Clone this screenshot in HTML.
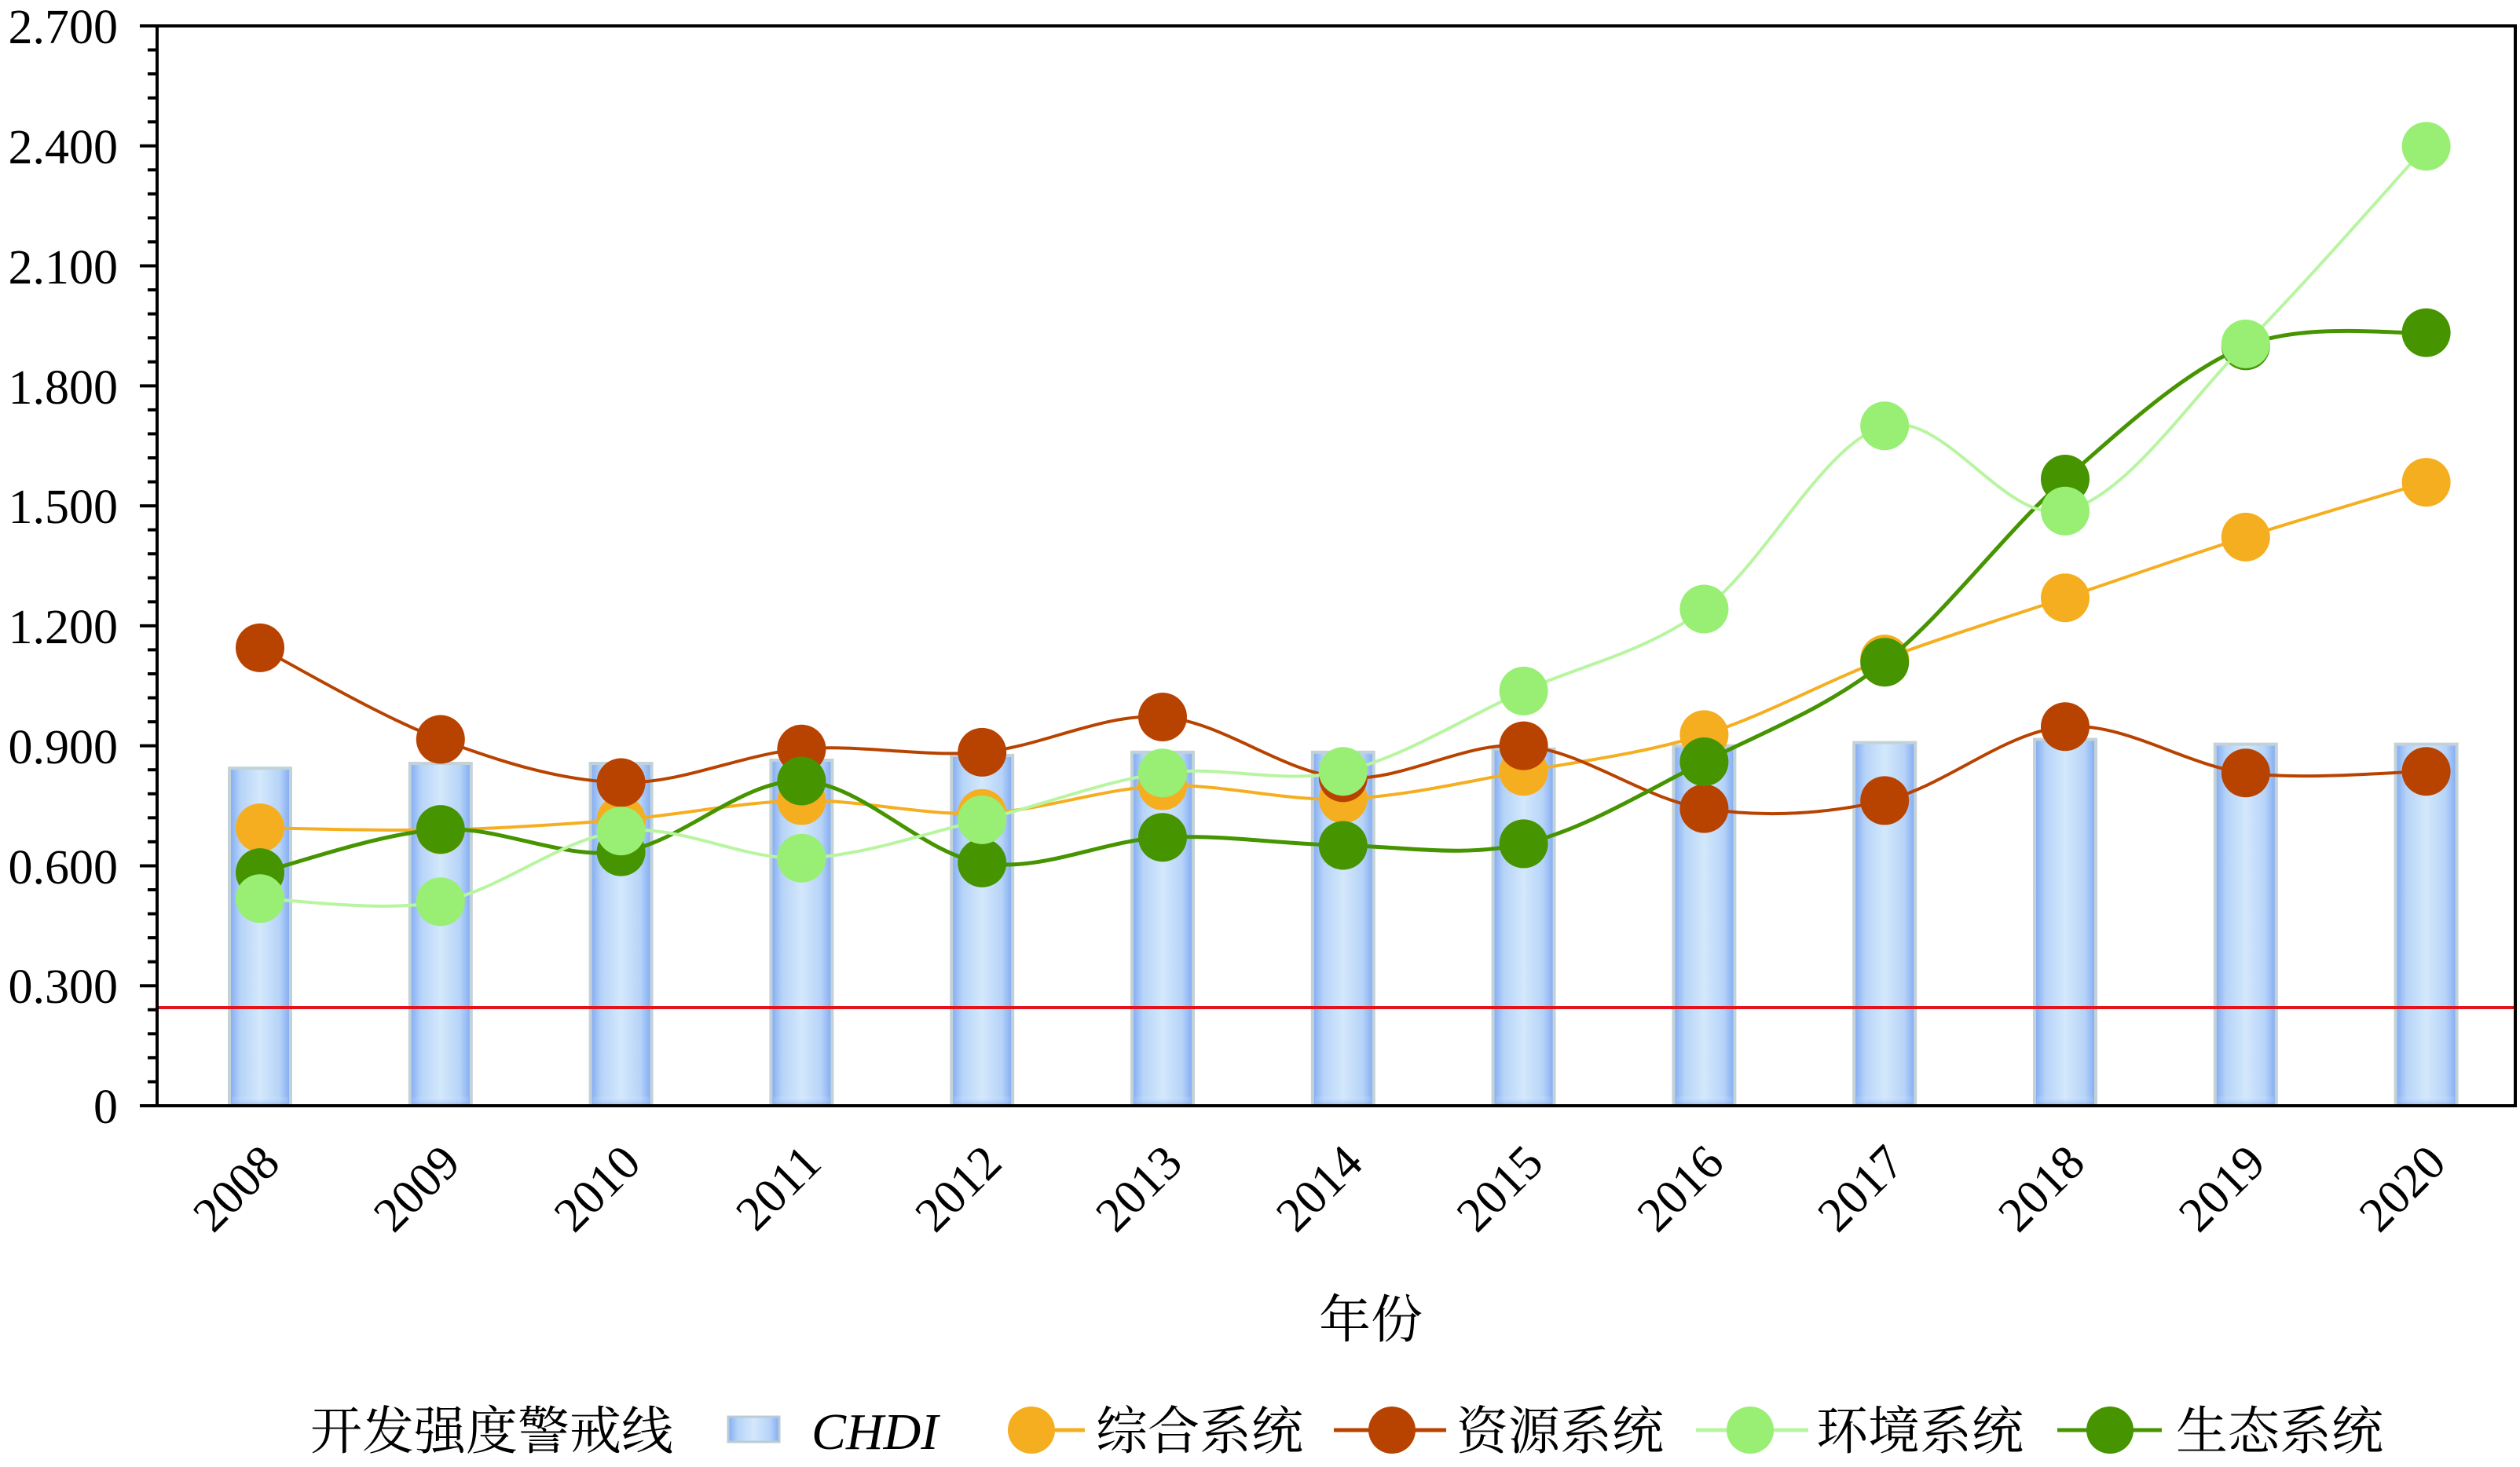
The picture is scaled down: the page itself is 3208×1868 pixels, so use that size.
<!DOCTYPE html>
<html><head><meta charset="utf-8"><style>
html,body{margin:0;padding:0;background:#fff;}
svg{display:block;}
text{font-family:"Liberation Serif","Noto Serif CJK SC","Noto Sans CJK SC",serif;fill:#000;}
</style></head><body>
<svg id="s" width="3208" height="1868" viewBox="0 0 3208 1868" xmlns="http://www.w3.org/2000/svg">
<defs>
<linearGradient id="bg" x1="0" x2="1" y1="0" y2="0">
<stop offset="0" stop-color="#7fa9f2"/><stop offset="0.18" stop-color="#b6d3f8"/><stop offset="0.5" stop-color="#d3e8fb"/><stop offset="0.82" stop-color="#b6d3f8"/><stop offset="1" stop-color="#7fa9f2"/>
</linearGradient>
<linearGradient id="bgv" x1="0" x2="0" y1="0" y2="1">
<stop offset="0" stop-color="#ffffff" stop-opacity="0"/><stop offset="0.97" stop-color="#ffffff" stop-opacity="0"/><stop offset="1" stop-color="#6f9ff0" stop-opacity="0.6"/>
</linearGradient>
</defs>
<g id="bars"></g>
<line x1="200" y1="1283" x2="3202" y2="1283" stroke="#e3141b" stroke-width="4"/>
<g id="lines"></g>
<g id="axes" stroke="#000" stroke-width="4" fill="none">
<rect x="200" y="33" width="3002" height="1375"/>
</g>
<g id="ticks" stroke="#000" stroke-width="4"></g>
<g font-size="62" text-anchor="end">
<text x="150" y="55">2.700</text>
<text x="150" y="208">2.400</text>
<text x="150" y="361">2.100</text>
<text x="150" y="514">1.800</text>
<text x="150" y="666">1.500</text>
<text x="150" y="819">1.200</text>
<text x="150" y="972">0.900</text>
<text x="150" y="1125">0.600</text>
<text x="150" y="1277">0.300</text>
<text x="150" y="1430">0</text>
</g>
<g id="xl" font-size="62" text-anchor="end"></g>
<text x="1745" y="1703" font-size="66" text-anchor="middle">年份</text>
<g font-size="66">
<text x="395" y="1845">开发强度警戒线</text>
<rect x="927" y="1804" width="65" height="32" fill="url(#bg)" stroke="#b9ccd5" stroke-width="3"/>
<text x="1033" y="1845" font-style="italic">CHDI</text>
<line x1="1285" y1="1821" x2="1381" y2="1821" stroke="#f5ae20" stroke-width="5"/><circle cx="1313" cy="1821" r="30" fill="#f5ae20"/>
<text x="1395" y="1845">综合系统</text>
<line x1="1698" y1="1821" x2="1841" y2="1821" stroke="#b84300" stroke-width="5"/><circle cx="1772" cy="1821" r="30" fill="#b84300"/>
<text x="1854" y="1845">资源系统</text>
<line x1="2159" y1="1821" x2="2302" y2="1821" stroke="#b8f5a0" stroke-width="5"/><circle cx="2228" cy="1821" r="30" fill="#98ef74"/>
<text x="2312" y="1845">环境系统</text>
<line x1="2619" y1="1821" x2="2752" y2="1821" stroke="#459400" stroke-width="5"/><circle cx="2686" cy="1821" r="30" fill="#459400"/>
<text x="2770" y="1845">生态系统</text>
</g>
</svg>
<script>
var NS="http://www.w3.org/2000/svg";
function el(p,t,a){var e=document.createElementNS(NS,t);for(var k in a)e.setAttribute(k,a[k]);p.appendChild(e);return e;}
var y0=1408,k=1375/2.7;function Y(v){return y0-v*k;}
function X(i){return 331+i*229.8;}
var bars=[0.844,0.856,0.856,0.864,0.876,0.884,0.884,0.892,0.9,0.908,0.916,0.904,0.904];
var bg=document.getElementById('bars');
bars.forEach(function(v,i){var x=X(i)-39,y=Y(v);
el(bg,'rect',{x:x,y:y,width:78,height:y0-y,fill:'url(#bg)',stroke:'#c3d2d9','stroke-width':4});
el(bg,'rect',{x:x+3,y:y,width:72,height:y0-y,fill:'url(#bgv)'});});
var tg=document.getElementById('ticks');
for(var j=0;j<=45;j++){var yy=33+j*1375/45;var maj=j%5==0;el(tg,'line',{x1:maj?178:188,y1:yy,x2:200,y2:yy});}
var xl=document.getElementById('xl');
for(var i=0;i<13;i++){var t=el(xl,'text',{transform:'translate('+(X(i)+28)+',1484) rotate(-45)'});t.textContent=2008+i;}
var S=[
{c:'#f5ae20',l:'#f5ae20',w:4,d:[0.695,0.69,0.715,0.763,0.731,0.80,0.767,0.836,0.928,1.117,1.27,1.422,1.559]},
{c:'#b84300',l:'#b84300',w:4,d:[1.145,0.916,0.808,0.892,0.884,0.972,0.82,0.9,0.743,0.763,0.948,0.832,0.836]},
{c:'#459400',l:'#459400',w:5,d:[0.583,0.691,0.635,0.812,0.607,0.671,0.651,0.655,0.86,1.109,1.567,1.90,1.933]},
{c:'#98ef74',l:'#b8f5a0',w:4,d:[0.518,0.51,0.687,0.619,0.715,0.832,0.836,1.037,1.242,1.70,1.487,1.905,2.399]}];
var lg=document.getElementById('lines');
S.forEach(function(s){var p=s.d.map(function(v,i){return [X(i),Y(v)];});
var d='M'+p[0][0]+','+p[0][1];var tn=0.5;
for(var i=0;i<p.length-1;i++){var a=p[Math.max(i-1,0)],b=p[i],c=p[i+1],e=p[Math.min(i+2,p.length-1)];
var c1=[b[0]+(c[0]-a[0])*tn/3,b[1]+(c[1]-a[1])*tn/3],c2=[c[0]-(e[0]-b[0])*tn/3,c[1]-(e[1]-b[1])*tn/3];
d+=' C'+c1+' '+c2+' '+c;}
el(lg,'path',{d:d,fill:'none',stroke:s.l,'stroke-width':s.w});
p.forEach(function(q){el(lg,'circle',{cx:q[0],cy:q[1],r:31,fill:s.c});});});
</script>
</body></html>
